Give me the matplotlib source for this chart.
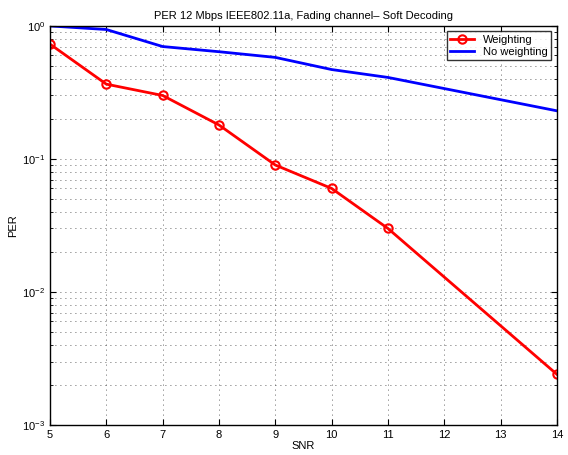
import matplotlib
matplotlib.use("Agg")
import matplotlib.pyplot as plt
from matplotlib.ticker import LogLocator, NullFormatter

snr = [5, 6, 7, 8, 9, 10, 11, 14]
per_weighting = [0.73, 0.365, 0.30, 0.18, 0.09, 0.06, 0.03, 0.0024]
per_no_weighting = [1.0, 0.94, 0.70, 0.64, 0.58, 0.47, 0.41, 0.23]
x_ticks = [5, 6, 7, 8, 9, 10, 11, 12, 13, 14]

plt.rcParams['font.family'] = ['Liberation Sans', 'DejaVu Sans']
plt.rcParams['mathtext.default'] = 'regular'
plt.rcParams['font.size'] = 8

fig = plt.figure(figsize=(5.68, 4.55), dpi=100)
ax = fig.add_axes([0.088, 0.066, 0.8926, 0.877])

ax.plot(snr, per_weighting, color='red', lw=2, marker='o', ms=6,
        mfc='none', mec='red', mew=1.5, label='Weighting')
ax.plot(snr, per_no_weighting, color='blue', lw=2, label='No weighting')

ax.set_yscale('log')
ax.set_xlim(5, 14)
ax.set_ylim(1e-3, 1)
ax.set_xticks(x_ticks)
ax.yaxis.set_major_locator(LogLocator(base=10, numticks=10))
ax.yaxis.set_minor_locator(LogLocator(base=10, subs=range(2, 10), numticks=20))
ax.yaxis.set_minor_formatter(NullFormatter())

grid_style = dict(linestyle=(0, (1, 5)), color='#333333', lw=0.6)
ax.grid(True, which='major', **grid_style)
ax.grid(True, which='minor', axis='y', **grid_style)
ax.set_axisbelow(True)
ax.tick_params(which='both', direction='in', top=True, right=True, labelsize=8)
ax.tick_params(which='major', length=4)
ax.tick_params(which='minor', length=2)
for s in ax.spines.values():
    s.set_linewidth(1.0)

ax.set_title('PER 12 Mbps IEEE802.11a, Fading channel\u2013 Soft Decoding', fontsize=8, pad=5)
ax.set_xlabel('SNR', fontsize=8, labelpad=1)
ax.set_ylabel('PER', fontsize=8, labelpad=3)

leg = ax.legend(loc='upper right', fancybox=False, edgecolor='black', fontsize=8,
                borderaxespad=0.5, handlelength=2.2, borderpad=0.3, labelspacing=0.2)
leg.get_frame().set_linewidth(1.0)

fig.savefig('out.png', dpi=100)
